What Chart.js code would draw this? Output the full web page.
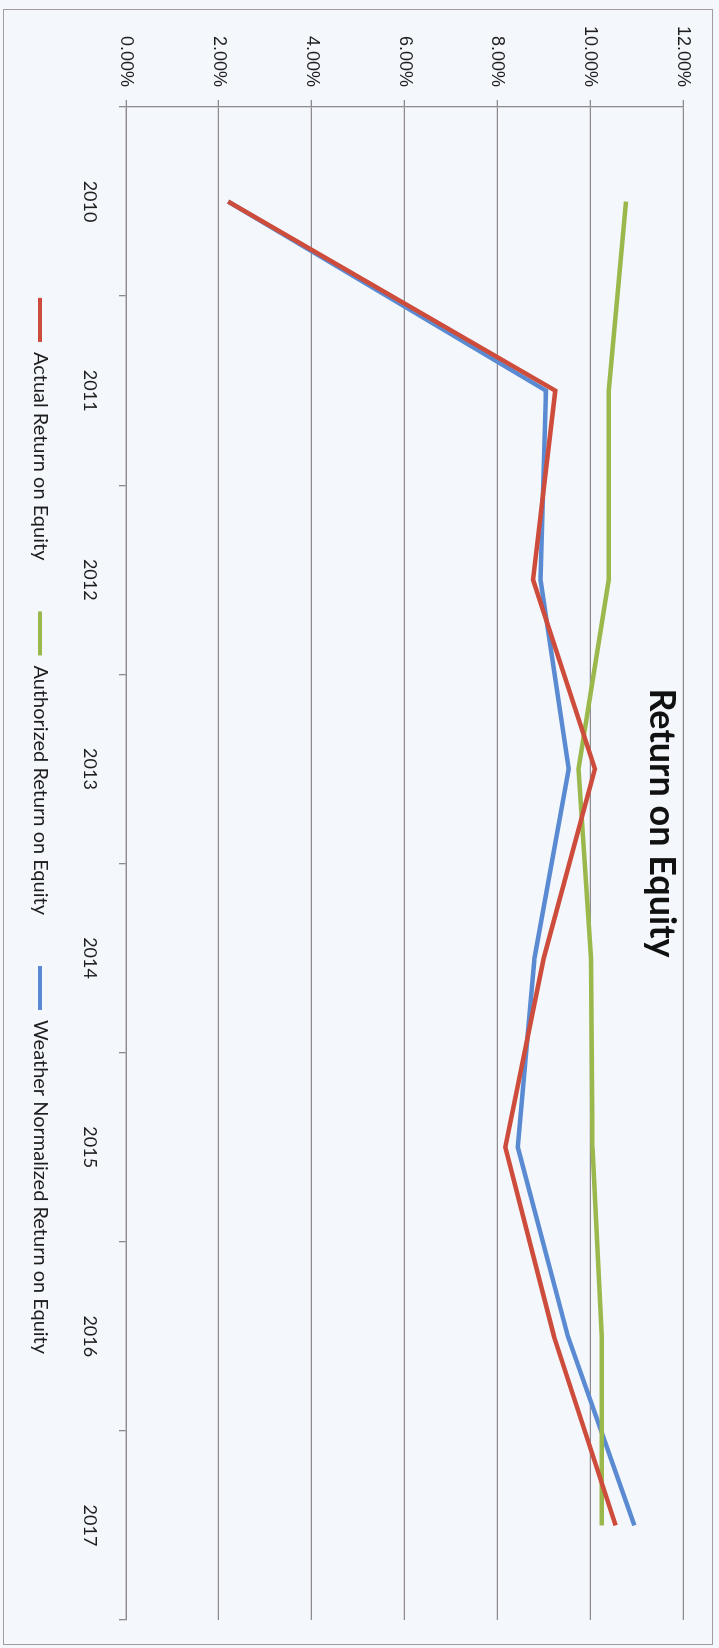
<!DOCTYPE html>
<html lang="en">
<head>
    <meta charset="UTF-8">
    <title>Return on Equity</title>
    <script src="https://cdn.jsdelivr.net/npm/chart.js"></script>
    <style>
        html, body {
            margin: 0;
            padding: 0;
            width: 719px;
            height: 1648px;
            overflow: hidden;
            background: #f4f7fb;
        }
        /* chart is laid out landscape, then turned a quarter clockwise */
        #wrap {
            position: absolute;
            left: 719px;
            top: 0;
            width: 1648px;
            height: 721px;
            transform-origin: 0 0;
            transform: rotate(90deg);
        }
        #frame {
            position: absolute;
            left: 9px;
            top: 6px;
            width: 1634px;
            height: 708px;
            border: 1.5px solid #a09ca0;
        }
        #myChart {
            position: absolute;
            left: 0;
            top: 0;
        }
    </style>
</head>
<body>
    <div id="wrap">
        <div id="frame"></div>
        <canvas id="myChart" width="1648" height="721"></canvas>
    </div>

    <script>
        const years = ['2010', '2011', '2012', '2013', '2014', '2015', '2016', '2017'];
        const actualRoe = [2.2, 9.25, 8.77, 10.1, 9.0, 8.17, 9.22, 10.55];
        const authorizedRoe = [10.77, 10.4, 10.4, 9.75, 10.02, 10.05, 10.25, 10.25];
        const weatherRoe = [2.2, 9.05, 8.93, 9.54, 8.8, 8.44, 9.52, 10.95];
        const yTicks = [0, 2, 4, 6, 8, 10, 12];

        const gridColor = '#8e8a90';

        // title sits inside the plot, like the original
        const overlayTitle = {
            id: 'overlayTitle',
            afterDraw(chart) {
                const c = chart.ctx;
                c.save();
                c.font = 'bold 36px Lato';
                c.fillStyle = '#111';
                c.textAlign = 'center';
                c.textBaseline = 'middle';
                c.fillText('Return on Equity', 823, 57);
                c.restore();
            }
        };

        // legend needs wide gaps between items but sits close to the axis labels
        const nudgeLegend = {
            id: 'nudgeLegend',
            afterLayout(chart) {
                const lg = chart.legend;
                lg.top -= 22;
                lg.bottom -= 22;
                lg.left += 8;
                lg.right += 8;
            }
        };

        const ctx = document.getElementById('myChart').getContext('2d');

        const myChart = new Chart(ctx, {
            type: 'line',
            data: {
                labels: years,
                datasets: [{
                    label: 'Actual Return on Equity',
                    data: actualRoe,
                    borderColor: '#cd4c3c',
                    backgroundColor: '#cd4c3c'
                }, {
                    label: 'Authorized Return on Equity',
                    data: authorizedRoe,
                    borderColor: '#9bb84c',
                    backgroundColor: '#9bb84c'
                }, {
                    label: 'Weather Normalized Return on Equity',
                    data: weatherRoe,
                    borderColor: '#5a8bd2',
                    backgroundColor: '#5a8bd2'
                }]
            },
            options: {
                responsive: false,
                animation: false,
                layout: {
                    padding: { left: 16, top: 36, right: 28, bottom: 0 }
                },
                elements: {
                    line: { borderWidth: 4.5, tension: 0 },
                    point: { radius: 0 }
                },
                scales: {
                    x: {
                        offset: true,
                        afterFit: s => { s.height = 47; },
                        grid: {
                            offset: true,
                            drawOnChartArea: false,
                            tickLength: 7,
                            color: gridColor,
                            lineWidth: 1.3
                        },
                        border: { color: gridColor, width: 1.3 },
                        ticks: {
                            padding: 18,
                            color: '#1e1e1e',
                            font: { family: 'Lato', size: 18 }
                        }
                    },
                    y: {
                        min: 0,
                        max: 12,
                        afterFit: s => { s.width = 91; },
                        afterBuildTicks: s => { s.ticks = yTicks.map(v => ({ value: v })); },
                        grid: {
                            tickLength: 7,
                            color: gridColor,
                            lineWidth: 1.3
                        },
                        border: { color: gridColor, width: 1.3 },
                        ticks: {
                            padding: 13,
                            color: '#1e1e1e',
                            font: { family: "'Liberation Sans', Arial", size: 18 },
                            callback: v => v.toFixed(2) + '%'
                        }
                    }
                },
                plugins: {
                    title: { display: false },
                    tooltip: { enabled: false },
                    legend: {
                        position: 'bottom',
                        labels: {
                            boxWidth: 44,
                            boxHeight: 4,
                            padding: 51,
                            color: '#1e1e1e',
                            font: { family: 'Lato', size: 20 },
                            generateLabels: chart => Chart.defaults.plugins.legend.labels.generateLabels(chart)
                                .map(item => Object.assign(item, { lineWidth: 0 }))
                        }
                    }
                }
            },
            plugins: [overlayTitle, nudgeLegend]
        });
    </script>
</body>
</html>
